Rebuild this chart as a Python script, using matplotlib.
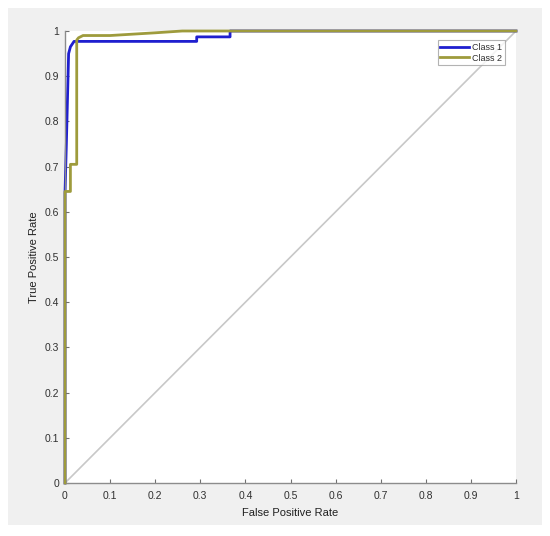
import matplotlib
matplotlib.use("Agg")
import matplotlib.pyplot as plt
from matplotlib.patches import Rectangle

plt.rcParams["font.family"] = ["Liberation Sans", "DejaVu Sans"]

# ROC data
class1_fpr = [0, 0, 0.003, 0.006, 0.008, 0.012, 0.02, 0.292, 0.292, 0.366, 0.366, 1.0]
class1_tpr = [0, 0.64, 0.75, 0.87, 0.95, 0.965, 0.977, 0.977, 0.987, 0.987, 1.0, 1.0]

class2_fpr = [0, 0, 0.012, 0.012, 0.026, 0.026, 0.03, 0.04, 0.10, 0.15, 0.20, 0.26, 1.0]
class2_tpr = [0, 0.645, 0.645, 0.705, 0.705, 0.98, 0.985, 0.99, 0.99, 0.993, 0.996, 1.0, 1.0]

series_names = ["Class 1", "Class 2"]
tick_values = [0, 0.1, 0.2, 0.3, 0.4, 0.5, 0.6, 0.7, 0.8, 0.9, 1]
tick_labels = ["0", "0.1", "0.2", "0.3", "0.4", "0.5", "0.6", "0.7", "0.8", "0.9", "1"]

W, H = 550, 536
fig = plt.figure(figsize=(W / 100, H / 100), dpi=100)
fig.patch.set_facecolor("white")
# gray window background
fig.patches.append(Rectangle((8 / W, 1 - 525 / H), (542 - 8) / W, (525 - 8) / H,
                             transform=fig.transFigure, facecolor="#f0f0f0",
                             edgecolor="none", zorder=-10))

ax = fig.add_axes([65 / W, 1 - 483 / H, (516 - 65) / W, (483 - 31) / H])
ax.set_zorder(5)
ax.set_facecolor("white")

ax.plot([0, 1], [0, 1], color="#c8c8c8", lw=1.2, zorder=1)
ax.plot(class1_fpr, class1_tpr, color="#1f1fcf", lw=2.0, label=series_names[0],
        zorder=2, clip_on=False)
ax.plot(class2_fpr, class2_tpr, color="#9e9b3c", lw=2.0, label=series_names[1],
        zorder=3, clip_on=False)

ax.set_xlim(0, 1)
ax.set_ylim(0, 1)
ax.set_xticks(tick_values)
ax.set_xticklabels(tick_labels)
ax.set_yticks(tick_values)
ax.set_yticklabels(tick_labels)
ax.tick_params(direction="in", length=3, width=0.8, color="#707070",
               labelsize=7.5, labelcolor="#303030")
ax.tick_params(axis="x", pad=6)
ax.tick_params(axis="y", pad=4)
for s in ["top", "right"]:
    ax.spines[s].set_visible(False)
for s in ["left", "bottom"]:
    ax.spines[s].set_color("#8c8c8c")
    ax.spines[s].set_linewidth(1.0)

ax.set_xlabel("False Positive Rate", fontsize=8, color="#202020", labelpad=5)
ax.set_ylabel("True Positive Rate", fontsize=8, color="#202020", labelpad=4)

leg = ax.legend(loc="upper right", bbox_to_anchor=(0.975, 0.98), fontsize=6.5,
                frameon=True, fancybox=False, handlelength=3.2, handletextpad=0.3,
                borderpad=0.3, labelspacing=0.2, borderaxespad=0)
leg.get_frame().set_edgecolor("#a0a0a0")
leg.get_frame().set_linewidth(0.8)
for t in leg.get_texts():
    t.set_color("#303030")

fig.savefig("out.png", dpi=100, facecolor=fig.get_facecolor())
